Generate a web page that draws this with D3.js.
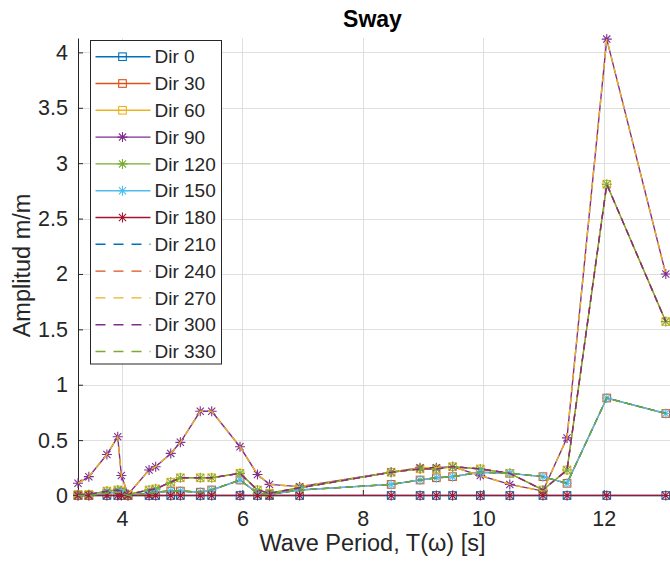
<!DOCTYPE html>
<html>
<head>
<meta charset="utf-8">
<script src="https://cdn.jsdelivr.net/npm/d3@7"></script>
<style>
  html, body { margin: 0; padding: 0; background: #fff; }
</style>
</head>
<body>
<div id="chart"></div>
<script>
// Wave periods (x)
const periods = [3.27, 3.45, 3.75, 3.93, 3.99, 4.10, 4.45, 4.56, 4.81, 4.97, 5.30, 5.49, 5.96, 6.25, 6.45, 6.95,
  8.47, 8.95, 9.22, 9.49, 9.95, 10.44, 10.99, 11.39, 12.05, 13.03];

// Sway amplitudes, headings that lie on top of each other share a list
const swayHead = [0, 0, 0, 0, 0, 0, 0, 0, 0, 0, 0, 0, 0, 0, 0, 0,
  0, 0, 0, 0, 0, 0, 0, 0, 0, 0];
const swayBow30 = [0.00, 0.00, 0.02, 0.03, 0.03, 0.00, 0.02, 0.03, 0.04, 0.04, 0.03, 0.05, 0.14, 0.02, 0.01, 0.05,
  0.10, 0.14, 0.16, 0.17, 0.21, 0.20, 0.17, 0.11, 0.88, 0.74];
const swayBow60 = [0.01, 0.01, 0.04, 0.05, 0.04, 0.01, 0.05, 0.06, 0.12, 0.16, 0.16, 0.16, 0.20, 0.05, 0.02, 0.07,
  0.21, 0.24, 0.24, 0.26, 0.24, 0.20, 0.05, 0.23, 2.81, 1.57];
const swayBeam = [0.11, 0.17, 0.37, 0.53, 0.18, 0.01, 0.23, 0.26, 0.38, 0.48, 0.76, 0.76, 0.44, 0.19, 0.10, 0.08,
  0.21, 0.25, 0.25, 0.26, 0.18, 0.10, 0.04, 0.52, 4.12, 2.00];

const directions = [0, 30, 60, 90, 120, 150, 180, 210, 240, 270, 300, 330];
const directionValues = [swayHead, swayBow30, swayBow60, swayBeam, swayBow60, swayBow30,
  swayHead, swayBow30, swayBow60, swayBeam, swayBow60, swayBow30];

const xTicks = [4, 6, 8, 10, 12];
const yTicks = [0, 0.5, 1, 1.5, 2, 2.5, 3, 3.5, 4];

class Chart {
  constructor() {
    const attrs = {
      svgWidth: 670,
      svgHeight: 572,
      plotLeft: 78,
      plotRight: 670,
      plotTop: 38,
      plotBottom: 495.5,
      xDomain: [3.27, 13.1],
      yDomain: [0, 4.13],
      container: "#chart",
      textFill: "#262626",
      gridColor: "#dfdfdf",
      lineWidth: 1.4,
      font: "'Liberation Sans', Arial, Helvetica, sans-serif",
      colors: ["#0072BD", "#D95319", "#EDB120", "#7E2F8E", "#77AC30", "#4DBEEE", "#A2142F"],
    };
    this.getState = () => attrs;
    this.setState = (d) => Object.assign(attrs, d);
  }

  render() {
    this.buildSeries();
    this.drawSvg();
    this.drawAxes();
    this.drawLines();
    this.drawLegend();
    return this;
  }

  buildSeries() {
    const { colors } = this.getState();
    const series = directions.map((dir, i) => ({
      name: "Dir " + dir,
      color: colors[i % colors.length],
      dashed: i >= 7,
      marker: i < 3 ? "square" : (i < 7 ? "star" : null),
      points: periods.map((t, j) => ({ t, v: directionValues[i][j] }))
    }));
    this.setState({ series });
  }

  drawSvg() {
    const { container, svgWidth, svgHeight, font, plotLeft, plotRight, plotTop, plotBottom, xDomain, yDomain } = this.getState();
    const svg = d3.select(container).append("svg")
      .attr("width", svgWidth)
      .attr("height", svgHeight)
      .attr("font-family", font);

    svg.append("defs").append("clipPath").attr("id", "plot-clip")
      .append("rect")
      .attr("x", plotLeft).attr("y", plotTop - 1)
      .attr("width", plotRight - plotLeft).attr("height", plotBottom - plotTop + 2);

    const x = d3.scaleLinear().domain(xDomain).range([plotLeft, plotRight]);
    const y = d3.scaleLinear().domain(yDomain).range([plotBottom, plotTop]);
    this.setState({ svg, x, y });
  }

  drawAxes() {
    const { svg, x, y, plotLeft, plotRight, plotTop, plotBottom, gridColor, textFill } = this.getState();

    // grid
    const grid = svg.append("g").attr("class", "grid");
    grid.selectAll("line.gx").data(xTicks).join("line")
      .attr("class", "gx")
      .attr("x1", d => Math.round(x(d)) + 0.5).attr("x2", d => Math.round(x(d)) + 0.5)
      .attr("y1", plotTop).attr("y2", plotBottom)
      .attr("stroke", gridColor).attr("stroke-width", 1);
    grid.selectAll("line.gy").data(yTicks).join("line")
      .attr("class", "gy")
      .attr("x1", plotLeft).attr("x2", plotRight)
      .attr("y1", d => Math.round(y(d)) + 0.5).attr("y2", d => Math.round(y(d)) + 0.5)
      .attr("stroke", gridColor).attr("stroke-width", 1);

    // d3 shifts axis lines by half a pixel, move back so the zero line covers the axis
    const xAxis = svg.append("g")
      .attr("transform", `translate(0,${plotBottom - 0.5})`)
      .call(d3.axisBottom(x).tickValues(xTicks).tickSize(-5).tickPadding(15.5).tickSizeOuter(0).tickFormat(d3.format("d")));
    const yAxis = svg.append("g")
      .attr("transform", `translate(${plotLeft},0)`)
      .call(d3.axisLeft(y).tickValues(yTicks).tickSize(-5).tickPadding(10).tickSizeOuter(0).tickFormat(d => String(d)));

    [xAxis, yAxis].forEach(a => {
      a.select(".domain").attr("stroke", textFill).attr("stroke-width", 1);
      a.selectAll(".tick line").attr("stroke", textFill).attr("stroke-width", 1);
      a.selectAll(".tick text").attr("fill", textFill).attr("font-size", 21.5);
    });

    svg.append("text")
      .attr("x", (plotLeft + 667) / 2).attr("y", 27)
      .attr("text-anchor", "middle")
      .attr("font-size", 23).attr("font-weight", "bold")
      .attr("fill", "#000")
      .text("Sway");

    svg.append("text")
      .attr("x", 372.5).attr("y", 551)
      .attr("text-anchor", "middle")
      .attr("font-size", 23.5)
      .attr("fill", textFill)
      .text("Wave Period, T(ω) [s]");

    svg.append("text")
      .attr("transform", "translate(30,265.5) rotate(-90)")
      .attr("text-anchor", "middle")
      .attr("font-size", 23.5)
      .attr("fill", textFill)
      .text("Amplitud m/m");
  }

  drawMarker(g, type, color) {
    if (type === "square") {
      g.append("rect")
        .attr("x", -3.8).attr("y", -3.8).attr("width", 7.6).attr("height", 7.6)
        .attr("fill", "none").attr("stroke", color).attr("stroke-width", 1.1);
    } else if (type === "star") {
      const r = 5, q = r * 0.72;
      g.append("path")
        .attr("d", `M${-r},0H${r}M0,${-r}V${r}M${-q},${-q}L${q},${q}M${-q},${q}L${q},${-q}`)
        .attr("fill", "none").attr("stroke", color).attr("stroke-width", 1.1);
    }
  }

  drawLines() {
    const { svg, x, y, series, lineWidth } = this.getState();
    const line = d3.line().x(d => x(d.t)).y(d => y(d.v));

    const rows = svg.append("g").attr("class", "series")
      .selectAll("g.row").data(series).join("g").attr("class", "row");

    rows.append("path")
      .attr("clip-path", "url(#plot-clip)")
      .attr("d", d => line(d.points))
      .attr("fill", "none")
      .attr("stroke", d => d.color)
      .attr("stroke-width", lineWidth)
      .attr("stroke-dasharray", d => d.dashed ? "7,5" : null);

    const self = this;
    rows.filter(d => d.marker).each(function (s) {
      d3.select(this).selectAll("g.mk").data(s.points).join("g")
        .attr("class", "mk")
        .attr("transform", p => `translate(${x(p.t)},${y(p.v)})`)
        .each(function () { self.drawMarker(d3.select(this), s.marker, s.color); });
    });
  }

  drawLegend() {
    const { svg, series, textFill, lineWidth } = this.getState();
    const left = 90.5, top = 40.5, width = 131, rowH = 26.8, firstY = 56.7;
    const legend = svg.append("g").attr("class", "legend");

    legend.append("rect")
      .attr("x", left).attr("y", top)
      .attr("width", width).attr("height", firstY - top + rowH * (series.length - 1) + 12.5)
      .attr("fill", "#fff").attr("stroke", textFill).attr("stroke-width", 1);

    const self = this;
    const items = legend.selectAll("g.item").data(series).join("g")
      .attr("class", "item")
      .attr("transform", (d, i) => `translate(${left},${firstY + i * rowH})`);

    items.append("line")
      .attr("x1", 5).attr("x2", 60).attr("y1", 0).attr("y2", 0)
      .attr("stroke", d => d.color).attr("stroke-width", lineWidth)
      .attr("stroke-dasharray", d => d.dashed ? "10,8" : null);

    items.filter(d => d.marker).each(function (d) {
      const g = d3.select(this).append("g").attr("transform", "translate(32,0)");
      self.drawMarker(g, d.marker, d.color);
    });

    items.append("text")
      .attr("x", 64).attr("y", 0).attr("dy", "0.35em")
      .attr("font-size", 19)
      .attr("fill", textFill)
      .text(d => d.name);
  }
}

new Chart().render();
</script>
</body>
</html>
